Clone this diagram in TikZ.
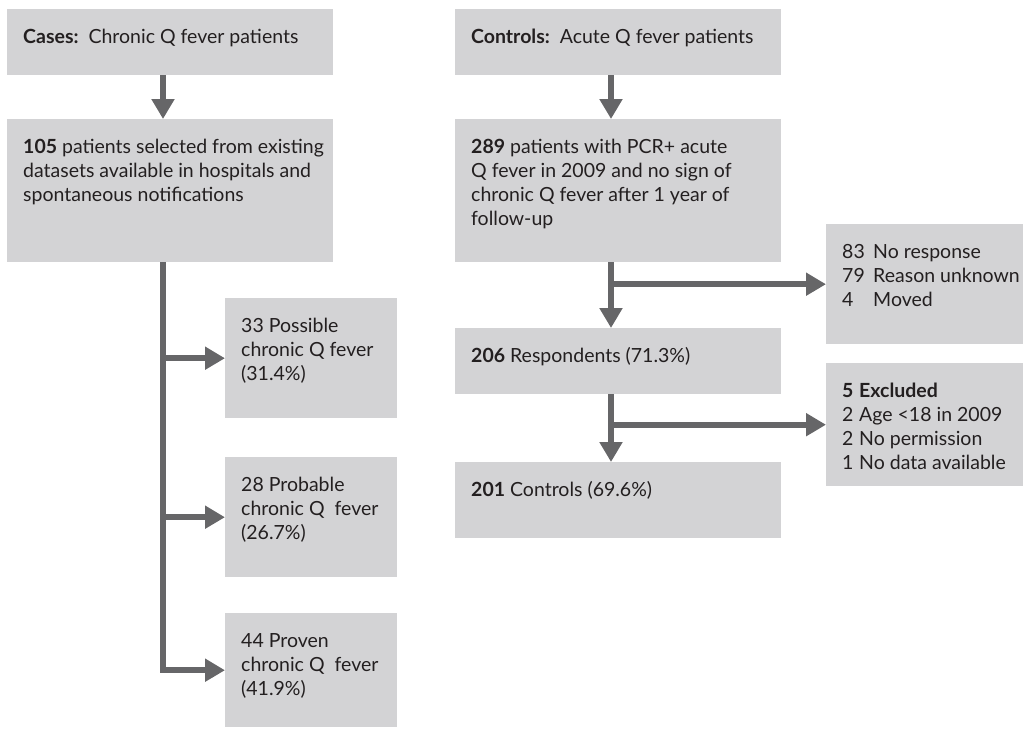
\documentclass[tikz,border=0pt]{standalone}
\usepackage{fontspec}
\setmainfont{Lato}
\definecolor{boxgray}{RGB}{211, 211, 213}
\definecolor{arrgray}{RGB}{102, 102, 104}
\definecolor{txtblack}{RGB}{35, 31, 32}
\usetikzlibrary{arrows.meta, calc}

\newcommand{\boxtext}[3]{\parbox[t][#2][t]{#1}{\raggedright\hbadness=10000\hfuzz=100pt\rule{0pt}{34pt}#3}}
\newcommand{\num}[2]{\makebox[#1][l]{#2}}

\begin{document}
\begin{tikzpicture}[x=1pt, y=-1pt,
    box/.style={fill=boxgray, anchor=north west, inner xsep=16pt, inner ysep=0pt,
      text=txtblack, font=\fontsize{19.5}{24}\selectfont},
    arr/.style={line width=6pt, arrgray, -{Triangle[length=20pt, width=22pt]}}]
  \useasboundingbox (0, 0) rectangle (1027, 729);

  % Cases column
  \node[box] (cases) at (7, 9) {\boxtext{294pt}{66pt}{\textbf{Cases:}\ \ Chronic Q fever patients}};
  \node[box] (sel) at (7, 119) {\boxtext{294pt}{143pt}{\mbox{\textbf{105} patients selected from existing}\\
    \mbox{datasets available in hospitals and}\\spontaneous notifications}};
  \node[box] (poss) at (225, 298) {\boxtext{140pt}{120pt}{33 Possible\\\mbox{chronic Q fever}\\(31.4\%)}};
  \node[box] (prob) at (225, 457) {\boxtext{140pt}{120pt}{28 Probable\\\mbox{chronic Q\ \ fever}\\(26.7\%)}};
  \node[box] (prov) at (225, 613) {\boxtext{140pt}{114pt}{44 Proven\\\mbox{chronic Q\ \ fever}\\(41.9\%)}};

  % Controls column
  \node[box] (ctrl) at (455, 9) {\boxtext{294pt}{66pt}{\textbf{Controls:}\ \ Acute Q fever patients}};
  \node[box] (pcr) at (455, 119) {\boxtext{294pt}{143pt}{\mbox{\textbf{289} patients with PCR+ acute}\\
    \mbox{Q fever in 2009 and no sign of}\\\mbox{chronic Q fever after 1 year of}\\follow-up}};
  \node[box] (resp) at (455, 328) {\boxtext{294pt}{66pt}{\textbf{206} Respondents (71.3\%)}};
  \node[box] (fin) at (455, 462) {\boxtext{294pt}{76pt}{\textbf{201} Controls (69.6\%)}};
  \node[box] (nores) at (826, 224) {\boxtext{165pt}{120pt}{\mbox{\num{31pt}{83}No response}\\
    \mbox{\num{31pt}{79}Reason unknown}\\\mbox{\num{31pt}{4}Moved}}};
  \node[box] (excl) at (826, 363) {\boxtext{165pt}{123pt}{\mbox{\num{17pt}{\textbf{5}}\textbf{Excluded}}\\
    \mbox{\num{17pt}{2}Age <18 in 2009}\\\mbox{\num{17pt}{2}No permission}\\\mbox{\num{17pt}{1}No data available}}};

  \coordinate (ltrunk) at (163, 0);
  \coordinate (rtrunk) at (611, 0);

  % arrows
  \draw[arr] (cases.south -| ltrunk) -- (sel.north -| ltrunk);
  \draw[arr] (sel.south -| ltrunk) |- (prov.west);
  \draw[arr] (poss.west -| ltrunk) -- (poss.west);
  \draw[arr] (prob.west -| ltrunk) -- (prob.west);

  \draw[arr] (ctrl.south -| rtrunk) -- (pcr.north -| rtrunk);
  \draw[arr] (pcr.south -| rtrunk) -- (resp.north -| rtrunk);
  \draw[arr] (nores.west -| rtrunk) -- (nores.west);
  \draw[arr] (resp.south -| rtrunk) -- (fin.north -| rtrunk);
  \draw[arr] (excl.west -| rtrunk) -- (excl.west);
\end{tikzpicture}
\end{document}
